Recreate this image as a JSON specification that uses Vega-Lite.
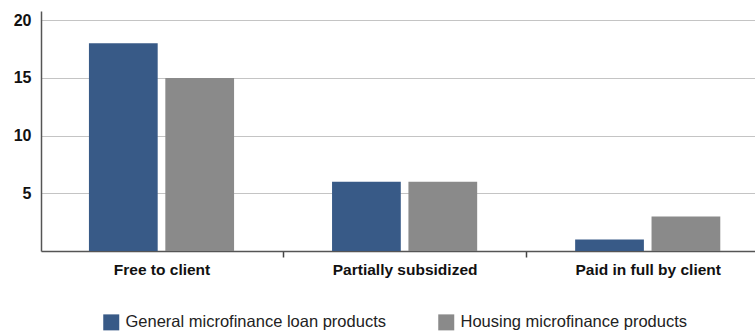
{
  "$schema": "https://vega.github.io/schema/vega-lite/v6.json",
  "autosize": {"type": "none"},
  "padding": {"left": 41, "top": 11, "right": 0, "bottom": 82},
  "width": 714,
  "height": 240,
  "background": "white",
  "data": {
    "values": [
      {"category": "Free to client", "product": "General microfinance loan products", "value": 18},
      {"category": "Free to client", "product": "Housing microfinance products", "value": 15},
      {"category": "Partially subsidized", "product": "General microfinance loan products", "value": 6},
      {"category": "Partially subsidized", "product": "Housing microfinance products", "value": 6},
      {"category": "Paid in full by client", "product": "General microfinance loan products", "value": 1},
      {"category": "Paid in full by client", "product": "Housing microfinance products", "value": 3}
    ]
  },
  "config": {
    "view": {"stroke": null},
    "font": "Liberation Sans"
  },
  "mark": {"type": "bar"},
  "encoding": {
    "x": {
      "field": "category",
      "type": "nominal",
      "sort": ["Free to client", "Partially subsidized", "Paid in full by client"],
      "scale": {"paddingInner": 0.403, "paddingOuter": 0.17, "align": 0.58},
      "axis": {
        "title": null,
        "labelAngle": 0,
        "labelFontSize": 15.5,
        "labelFontWeight": "bold",
        "labelColor": "#111111",
        "labelPadding": 5,
        "labelOffset": -121.5,
        "ticks": true,
        "tickOffset": 121.5,
        "tickColor": "#444444",
        "tickWidth": 1.5,
        "tickSize": 6,
        "domainColor": "#555555",
        "domainWidth": 1.5
      }
    },
    "xOffset": {
      "field": "product",
      "type": "nominal",
      "scale": {"paddingInner": 0.1}
    },
    "y": {
      "field": "value",
      "type": "quantitative",
      "scale": {"domain": [0, 20.8], "nice": false},
      "axis": {
        "title": null,
        "values": [5, 10, 15, 20],
        "ticks": false,
        "labelPadding": 10,
        "labelFontSize": 16,
        "labelFontWeight": "bold",
        "labelColor": "#111111",
        "gridColor": "#c4c4c4",
        "gridWidth": 1.2,
        "domainColor": "#555555",
        "domainWidth": 1.5
      }
    },
    "color": {
      "field": "product",
      "type": "nominal",
      "scale": {
        "domain": ["General microfinance loan products", "Housing microfinance products"],
        "range": ["#385a87", "#8a8a8a"]
      },
      "legend": {
        "title": null,
        "orient": "none",
        "direction": "horizontal",
        "legendX": 62,
        "legendY": 303,
        "symbolType": "square",
        "symbolSize": 256,
        "symbolStrokeWidth": 0,
        "symbolOpacity": 1,
        "labelFontSize": 16.5,
        "labelColor": "#222222",
        "labelOffset": 6,
        "columnPadding": 52,
        "labelLimit": 400
      }
    }
  }
}
